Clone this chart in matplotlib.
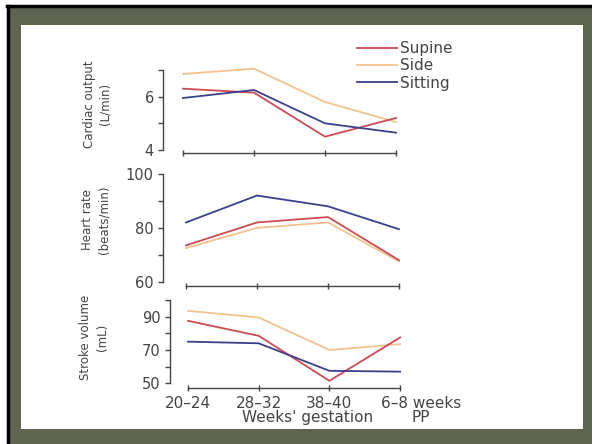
import numpy as np
import matplotlib
matplotlib.use("Agg")
import matplotlib.pyplot as plt
from matplotlib.patches import Rectangle
from matplotlib.lines import Line2D
from matplotlib.transforms import ScaledTranslation

# weeks of gestation (and post partum)
periods = ["20\u201324", "28\u201332", "38\u201340", "6\u20138 weeks\nPP"]

cardiac_supine = [6.3, 6.15, 4.5, 5.2]
cardiac_side = [6.85, 7.05, 5.8, 5.05]
cardiac_sitting = [5.95, 6.25, 5.0, 4.65]

hr_supine = [73.5, 82, 84, 68]
hr_side = [72.5, 80, 82, 67.5]
hr_sitting = [82, 92, 88, 79.5]

sv_supine = [87.5, 78.5, 51.5, 77.5]
sv_side = [93.5, 89.5, 70, 73.5]
sv_sitting = [75, 74, 57.5, 57]

red = "#cc4a55"
peach = "#f4c28f"
blue = "#3c3f8a"
ink = "#444444"

W, H = 592, 444
plt.rcParams["font.family"] = "DejaVu Sans"

fig = plt.figure(figsize=(W / 100, H / 100), dpi=100, facecolor="white")

# slide background: olive frame, black edge top/left, white card
fig.patches.append(Rectangle((7 / W, 0), 1, 1 - 5 / H, transform=fig.transFigure,
                             facecolor="#5e6450", edgecolor="none", zorder=-3))
fig.lines.append(Line2D([8 / W, 8 / W], [0, 1 - 6 / H], transform=fig.transFigure,
                        color="black", lw=2.5, zorder=-2))
fig.lines.append(Line2D([7 / W, 1], [1 - 6 / H, 1 - 6 / H], transform=fig.transFigure,
                        color="black", lw=2.5, zorder=-2))
fig.patches.append(Rectangle((21 / W, 1 - 429 / H), 562 / W, 404 / H, transform=fig.transFigure,
                             facecolor="white", edgecolor="none", zorder=-1))


def make_axes(left, top, bottom, x0, unit):
    # left spine at pixel 'left', category 0 at pixel x0, 'unit' px per category
    xmin = (left - x0) / unit
    width = (3.1 - xmin) * unit
    ax = fig.add_axes([left / W, 1 - bottom / H, width / W, (bottom - top) / H])
    ax.set_zorder(1)
    ax.set_xlim(xmin, 3.1)
    ax.patch.set_visible(False)
    for s in ["top", "right"]:
        ax.spines[s].set_visible(False)
    for s in ["left", "bottom"]:
        ax.spines[s].set_color(ink)
        ax.spines[s].set_linewidth(1.0)
    ax.spines["bottom"].set_bounds(0, 3)
    ax.tick_params(axis="y", length=3.6, width=1.0, color=ink, labelcolor=ink,
                   labelsize=10.5, pad=3)
    ax.tick_params(axis="x", direction="inout", length=4, width=1.0, color=ink,
                   labelcolor=ink, labelsize=11)
    ax.set_xticks(range(4))
    return ax


def draw(ax, supine, side, sitting):
    x = np.arange(len(periods))
    ax.plot(x, side, color=peach, lw=1.3, clip_on=False)
    ax.plot(x, supine, color=red, lw=1.3, clip_on=False)
    ax.plot(x, sitting, color=blue, lw=1.3, clip_on=False)


# cardiac output
ax1 = make_axes(163, 70, 150, 183, 71)
draw(ax1, cardiac_supine, cardiac_side, cardiac_sitting)
ax1.set_ylim(4, 7)
ax1.set_yticks([4, 5, 6, 7], ["4", "", "6", ""])
ax1.set_xticklabels([])
ax1.spines["bottom"].set_position(("outward", 2.2))
ax1.set_ylabel("Cardiac output\n(L/min)", fontsize=8.5, color=ink, va="center",
               linespacing=1.25)
ax1.yaxis.set_label_coords(-0.275, 0.575)

# heart rate
ax2 = make_axes(163, 174, 281.7, 186, 71)
draw(ax2, hr_supine, hr_side, hr_sitting)
ax2.set_ylim(60, 100)
ax2.set_yticks([60, 70, 80, 90, 100], ["60", "", "80", "", "100"])
ax2.set_xticklabels([])
ax2.spines["bottom"].set_position(("outward", 3))
ax2.set_ylabel("Heart rate\n(beats/min)", fontsize=8.5, color=ink, va="center",
               linespacing=1.35)
ax2.yaxis.set_label_coords(-0.275, 0.573)

# stroke volume
ax3 = make_axes(170, 300, 383.3, 188, 70.7)
draw(ax3, sv_supine, sv_side, sv_sitting)
ax3.set_ylim(50, 100)
ax3.set_yticks([50, 60, 70, 80, 90, 100], ["50", "", "70", "", "90", ""])
ax3.spines["bottom"].set_position(("outward", 3.6))
ax3.set_ylabel("Stroke volume\n(mL)", fontsize=8.5, color=ink, va="center",
               linespacing=1.35)
ax3.yaxis.set_label_coords(-0.32, 0.556)
ax3.set_xticklabels(periods, linespacing=0.9)
last = ax3.get_xticklabels()[-1]
last.set_horizontalalignment("left")
last.set_multialignment("center")
last.set_transform(last.get_transform() + ScaledTranslation(-0.19, 0, fig.dpi_scale_trans))
ax3.set_xlabel("Weeks' gestation", fontsize=11, color=ink, va="top")
ax3.xaxis.set_label_coords(0.578, -0.32)

# legend
handles = [Line2D([], [], color=red, lw=1.3),
           Line2D([], [], color=peach, lw=1.3),
           Line2D([], [], color=blue, lw=1.3)]
fig.legend(handles, ["Supine", "Side", "Sitting"], loc="upper left",
           bbox_to_anchor=(357 / W, 1 - 41 / H), frameon=False, fontsize=11,
           labelspacing=0.15, handlelength=2.6, handletextpad=0.2,
           borderpad=0, borderaxespad=0, labelcolor=ink)

fig.savefig("out.png", dpi=100, facecolor=fig.get_facecolor())
